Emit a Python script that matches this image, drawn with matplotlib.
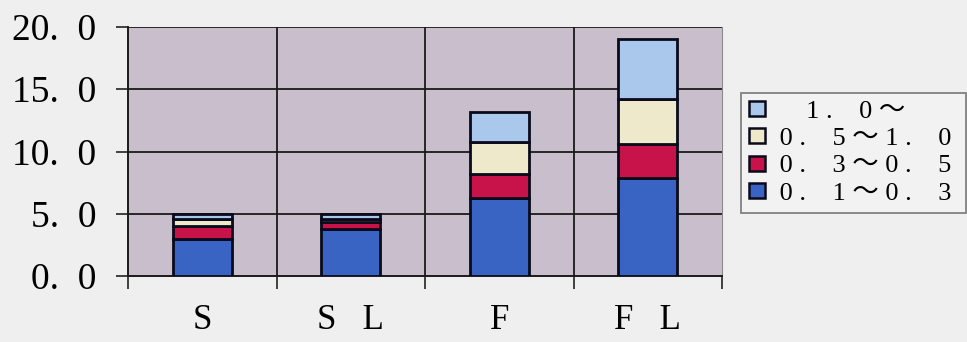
import matplotlib
matplotlib.use("Agg")
import matplotlib.pyplot as plt
from matplotlib.ticker import FixedLocator, NullFormatter
from matplotlib.patches import Patch

categories = ["Ｓ", "ＳＬ", "Ｆ", "ＦＬ"]
series_names = ["０．１～０．３", "０．３～０．５", "０．５～１．０", "　１．０～"]
v_01_03 = [3.0, 3.8, 6.3, 7.9]
v_03_05 = [1.0, 0.5, 1.9, 2.7]
v_05_10 = [0.6, 0.3, 2.6, 3.6]
v_10_up = [0.4, 0.4, 2.4, 4.8]
yticks = [0, 5, 10, 15, 20]
yticklabels = ["0．0", "5．0", "10．0", "15．0", "20．0"]

colors = ["#3a64c4", "#c8124a", "#efe9cc", "#a9c8ec"]
fam = ["Liberation Serif", "Noto Sans CJK JP"]


def fw_slots(s):
    """Render full-width text with serif half-width glyphs on full-width slots."""
    out = []
    for ch in s:
        if "０" <= ch <= "９":
            out.append(" " + chr(ord(ch) - 0xFEE0) + " ")
        elif "Ａ" <= ch <= "Ｚ":
            out.append(chr(ord(ch) - 0xFEE0) + "   ")
        elif ch == "．":
            out.append(".   ")
        elif ch == "　":
            out.append("    ")
        else:
            out.append(ch)
    return "".join(out)


def tick_text(s):
    return s.replace("．", ".  ")


fig = plt.figure(figsize=(9.67, 3.42), dpi=100, facecolor="#efefef")
ax = fig.add_axes([128/967, 66/342, (722-128)/967, (276-27)/342])
ax.set_facecolor("#c9bfcc")

x = list(range(len(categories)))
bottom = [0.0]*len(categories)
series = [v_01_03, v_03_05, v_05_10, v_10_up]
for vals, c in zip(series, colors):
    ax.bar(x, vals, width=0.4, bottom=bottom, color=c, edgecolor="#0a0a1a",
           linewidth=2.0, zorder=3)
    bottom = [b + v for b, v in zip(bottom, vals)]

ax.set_xlim(-0.5, 3.5)
ax.set_ylim(0, 20)
ax.set_yticks(yticks)
ax.set_yticklabels([tick_text(t) for t in yticklabels], family=fam, fontsize=27)
ax.set_xticks(x)
ax.set_xticklabels([fw_slots(c).strip() for c in categories], family=fam, fontsize=25)
ax.xaxis.set_minor_locator(FixedLocator([-0.5, 0.5, 1.5, 2.5, 3.5]))
ax.xaxis.set_minor_formatter(NullFormatter())
ax.tick_params(axis="x", which="major", length=0, pad=20)
ax.tick_params(axis="x", which="minor", length=9, width=1.2, color="#222222", direction="out")
ax.tick_params(axis="y", length=9, width=1.2, color="#222222", direction="out", pad=14)

for yv in yticks[1:]:
    ax.axhline(yv, color="#1a1a1a", linewidth=1.3, zorder=1)
for xv in [0.5, 1.5, 2.5]:
    ax.axvline(xv, color="#1a1a1a", linewidth=1.3, zorder=1)

for side in ["left", "bottom"]:
    ax.spines[side].set_color("#1a1a1a")
    ax.spines[side].set_linewidth(1.4)
ax.spines["right"].set_color("#8a8a8a")
ax.spines["top"].set_visible(False)

handles = [Patch(facecolor=c, edgecolor="#0a0a1a", linewidth=1.8) for c in colors]
leg = fig.legend(handles[::-1], [fw_slots(s) for s in series_names[::-1]], loc="upper left",
                 bbox_to_anchor=(741/967, 1 - 93/342), frameon=True,
                 prop={"family": fam, "size": 19}, handlelength=0.6, handleheight=0.5,
                 handletextpad=0.3, labelspacing=0.2, borderpad=0.3, borderaxespad=0,
                 fancybox=False)
leg.get_frame().set_edgecolor("#666666")
leg.get_frame().set_facecolor("#f4f4f4")
leg.get_frame().set_linewidth(1.3)

fig.savefig("out.png", dpi=100, facecolor=fig.get_facecolor())
